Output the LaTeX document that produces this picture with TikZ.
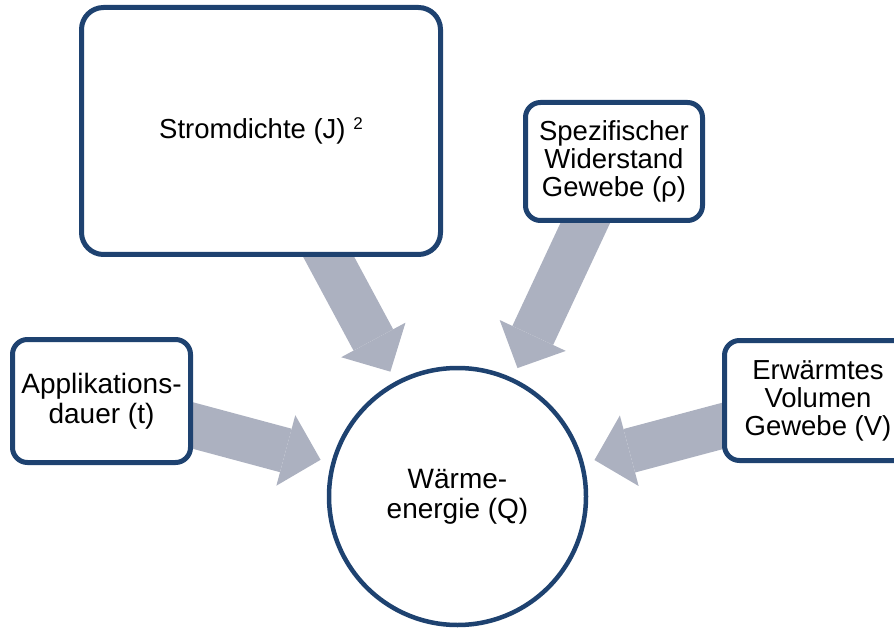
\documentclass[tikz,border=0pt]{standalone}
\usepackage{fontspec}
\setmainfont{Liberation Sans}
\usetikzlibrary{arrows.meta,backgrounds}

\definecolor{framenavy}{RGB}{30,66,112}
\definecolor{arrowgrey}{RGB}{172,177,192}

\tikzset{
  factorbox/.style={draw=framenavy, line width=5pt, fill=white, rectangle,
    rounded corners=#1, align=center, inner sep=0pt,
    font=\fontsize{27.5}{28}\selectfont},
  factorbox/.default=15pt,
  resultcircle/.style={draw=framenavy, line width=4.5pt, fill=white, circle,
    minimum size=257pt, align=center, inner sep=0pt,
    font=\fontsize{28}{30}\selectfont},
  bigarrow/.style={draw=arrowgrey, line width=45pt,
    -{Triangle[length=36pt,width=73pt,line width=0pt]},
    shorten >=11pt},
}

\begin{document}
\begin{tikzpicture}[x=1pt, y=-1pt]
  \useasboundingbox (0,0) rectangle (894,628);
  \clip (0,0) rectangle (894,628);

  % Factor boxes
  \node[factorbox=22pt, minimum width=359pt, minimum height=247pt,
        font=\fontsize{27.5}{30}\selectfont]
    (strom) at (261,131)
    {Stromdichte (J) \raisebox{9pt}{\fontsize{17}{20}\selectfont 2}};
  \node[factorbox, minimum width=177pt, minimum height=118pt]
    (spez) at (614,161.5) {Spezifischer\\Widerstand\\Gewebe (ρ)};
  \node[factorbox, minimum width=178pt, minimum height=123pt,
        font=\fontsize{28}{30}\selectfont]
    (appl) at (101.5,401) {Applikations-\\dauer (t)};
  \node[factorbox, minimum width=187pt, minimum height=120pt]
    (erw) at (818,400.5) {Erwärmtes\\Volumen\\Gewebe (V)};

  % Result
  \node[resultcircle] (q) at (457.5,496.5) {Wärme-\\energie (Q)};

  % Block arrows pointing at the result
  \begin{scope}[on background layer]
    \draw[bigarrow] (strom.center) -- (q);
    \draw[bigarrow] (spez.center) -- (q);
    \draw[bigarrow] (appl.center) -- (q);
    \draw[bigarrow] (erw.center) -- (q);
  \end{scope}
\end{tikzpicture}
\end{document}
